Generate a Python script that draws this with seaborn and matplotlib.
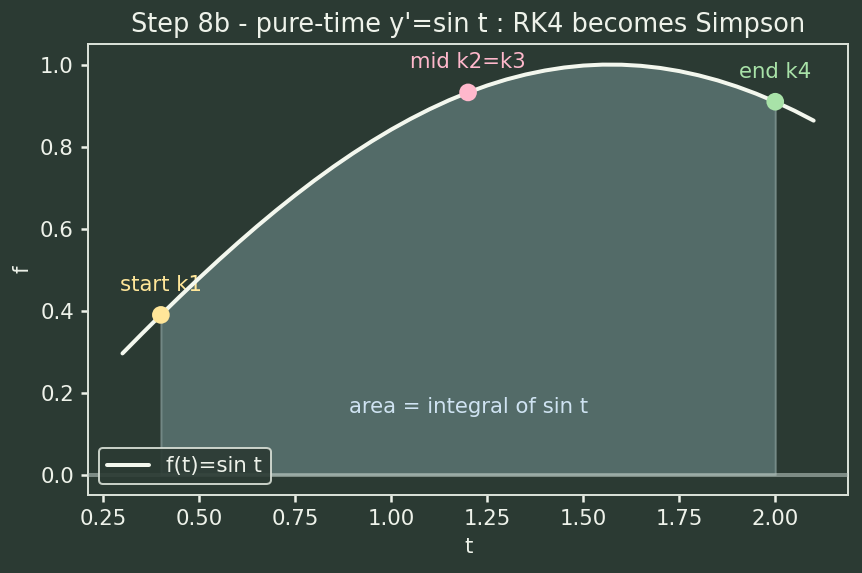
import matplotlib
matplotlib.use("Agg")
import matplotlib.pyplot as plt
import seaborn as sns
import pandas as pd

# curve samples of f(t) = sin t
t_vals = [0.30, 0.35, 0.40, 0.45, 0.50, 0.55, 0.60, 0.65, 0.70, 0.75,
          0.80, 0.85, 0.90, 0.95, 1.00, 1.05, 1.10, 1.15, 1.20, 1.25,
          1.30, 1.35, 1.40, 1.45, 1.50, 1.55, 1.60, 1.65, 1.70, 1.75,
          1.80, 1.85, 1.90, 1.95, 2.00, 2.05, 2.10]
f_vals = [0.2955, 0.3429, 0.3894, 0.4350, 0.4794, 0.5227, 0.5646, 0.6052, 0.6442, 0.6816,
          0.7174, 0.7513, 0.7833, 0.8134, 0.8415, 0.8674, 0.8912, 0.9128, 0.9320, 0.9490,
          0.9636, 0.9757, 0.9854, 0.9927, 0.9975, 0.9998, 0.9996, 0.9969, 0.9917, 0.9840,
          0.9738, 0.9613, 0.9463, 0.9290, 0.9093, 0.8874, 0.8632]

# RK4 stage points
stage_t = [0.4, 1.2, 2.0]
stage_f = [0.3894, 0.9320, 0.9093]
stage_labels = ["start k1", "mid k2=k3", "end k4"]
stage_colors = ["#ffe699", "#ffb8cc", "#a8e2a8"]

bg = "#2b3a33"
fg = "#eef2ea"

sns.set_theme(style="dark")
plt.rcParams.update({
    "figure.facecolor": bg,
    "axes.facecolor": bg,
    "axes.edgecolor": "#d8dfd6",
    "axes.labelcolor": fg,
    "xtick.color": fg,
    "ytick.color": fg,
    "text.color": fg,
    "axes.grid": False,
})
plt.rcParams['font.family'] = ['DejaVu Sans']

df = pd.DataFrame({"t": t_vals, "f": f_vals})

fs = 10.6

fig, ax = plt.subplots(figsize=(862 / 144, 573 / 144), dpi=144)
fig.subplots_adjust(left=0.102, right=0.984, top=0.923, bottom=0.136)

# shaded area under curve between start and end
sub = df[(df["t"] >= stage_t[0]) & (df["t"] <= stage_t[-1])]
ax.fill_between(sub["t"], 0, sub["f"], color="#6e8c8c", alpha=0.6,
                edgecolor="#93a8a5", linewidth=1)

sns.lineplot(data=df, x="t", y="f", color="#f3f7ee", linewidth=2.0,
             label="f(t)=sin t", ax=ax, zorder=4)

ax.axhline(0, color="#b4c2bc", linewidth=2, alpha=0.6, zorder=3)

for x, y, lab, c in zip(stage_t, stage_f, stage_labels, stage_colors):
    ax.scatter([x], [y], s=78, color=c, zorder=6, edgecolors="none")
    ax.annotate(lab, (x, y), xytext=(0, 10), textcoords="offset points",
                ha="center", va="bottom", color=c, fontsize=fs)

ax.text(1.2, 0.165, "area = integral of sin t", ha="center", va="center",
        color="#cfe3f2", fontsize=fs)

ax.set_title("Step 8b - pure-time y'=sin t : RK4 becomes Simpson",
             fontsize=12.8, color=fg)
ax.set_xlabel("t", fontsize=fs)
ax.set_ylabel("f", fontsize=fs)
ax.tick_params(axis="both", labelsize=fs, length=3.5, bottom=True, left=True)
for s in ax.spines.values():
    s.set_linewidth(1)

leg = ax.legend(loc="lower left", fontsize=fs, frameon=True)
leg.get_frame().set_facecolor(bg)
leg.get_frame().set_edgecolor("#d8dfd6")
leg.get_frame().set_alpha(0.9)
for txt in leg.get_texts():
    txt.set_color(fg)

plt.savefig("out.png", dpi=144, facecolor=bg)
